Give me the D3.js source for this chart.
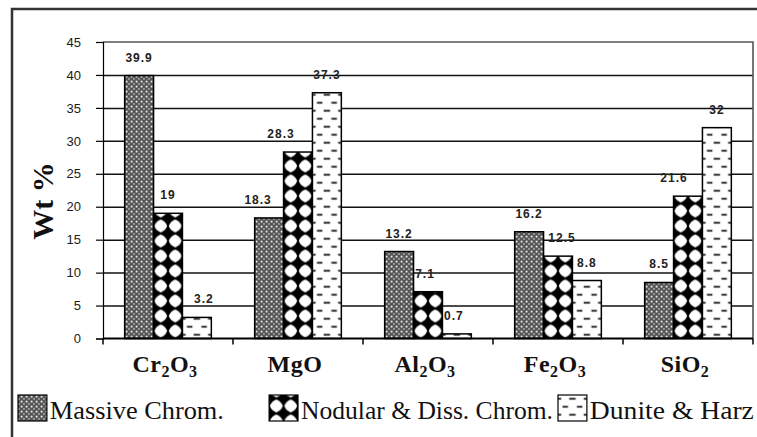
<!DOCTYPE html>
<html>
<head>
<meta charset="utf-8">
<script src="https://cdnjs.cloudflare.com/ajax/libs/d3/7.8.5/d3.min.js"></script>
<style>
    body { margin: 0; background: #fff; }
    svg { display: block; }
</style>
</head>
<body>
<div class="graphContainer"></div>
<script>
// Chart data
const categories = ["Cr2O3", "MgO", "Al2O3", "Fe2O3", "SiO2"];
const seriesNames = ["Massive Chrom.", "Nodular & Diss. Chrom.", "Dunite & Harz"];
const massive = [39.9, 18.3, 13.2, 16.2, 8.5];
const nodular = [19, 28.3, 7.1, 12.5, 21.6];
const dunite = [3.2, 37.3, 0.7, 8.8, 32];
const yTicks = [0, 5, 10, 15, 20, 25, 30, 35, 40, 45];

const seriesValues = [massive, nodular, dunite];

const width = 757, height = 437;
const margin = { top: 42, right: 4, bottom: 98, left: 103 };

const svg = d3.select(".graphContainer")
    .append("svg")
    .attr("width", width)
    .attr("height", height);

svg.append("rect")
    .attr("width", width)
    .attr("height", height)
    .attr("fill", "#fff");

// Scales
const x0 = d3.scaleBand()
    .domain(categories)
    .range([margin.left, width - margin.right])
    .padding(0);

const x1 = d3.scaleBand()
    .domain(d3.range(seriesNames.length))
    .range([0, x0.bandwidth()])
    .paddingInner(0)
    .paddingOuter(0.75);

const y = d3.scaleLinear()
    .domain([0, 45])
    .range([height - margin.bottom - 0.5, margin.top]);

const bw = x1.bandwidth();

// Fill patterns (aligned to the bars of each series)
const defs = svg.append("defs");

const pMassive = defs.append("pattern")
    .attr("id", "pat0")
    .attr("patternUnits", "userSpaceOnUse")
    .attr("width", 5)
    .attr("height", 5);
pMassive.append("rect").attr("width", 5).attr("height", 5).attr("fill", "#555");
pMassive.append("rect").attr("x", 0.7).attr("y", 0.7).attr("width", 1.8).attr("height", 1.8).attr("fill", "#eee");
pMassive.append("rect").attr("x", 3.2).attr("y", 3.2).attr("width", 1.5).attr("height", 1.5).attr("fill", "#c4c4c4");

const half = bw / 2;
const pNod = defs.append("pattern")
    .attr("id", "pat1")
    .attr("patternUnits", "userSpaceOnUse")
    .attr("x", margin.left + x1(1))
    .attr("y", y(0))
    .attr("width", half)
    .attr("height", 15);
pNod.append("rect").attr("width", half).attr("height", 15).attr("fill", "#000");
{
    const cx = half / 2, cy = 7.5, r = 6.4, k = 4.7;
    pNod.append("path")
        .attr("fill", "#fff")
        .attr("d", `M${cx},${cy - r} Q${cx + k},${cy - k} ${cx + r},${cy}`
            + ` Q${cx + k},${cy + k} ${cx},${cy + r}`
            + ` Q${cx - k},${cy + k} ${cx - r},${cy}`
            + ` Q${cx - k},${cy - k} ${cx},${cy - r} Z`);
}

const pDun = defs.append("pattern")
    .attr("id", "pat2")
    .attr("patternUnits", "userSpaceOnUse")
    .attr("x", margin.left + x1(2))
    .attr("y", y(0))
    .attr("width", half)
    .attr("height", 16);
pDun.append("rect").attr("width", half).attr("height", 16).attr("fill", "#fff");
pDun.append("rect").attr("x", 4.5).attr("y", 3.5).attr("width", 5.5).attr("height", 1.6).attr("fill", "#000");
pDun.append("rect").attr("x", 0).attr("y", 11.5).attr("width", 3.2).attr("height", 1.6).attr("fill", "#000");
pDun.append("rect").attr("x", half - 3.2).attr("y", 11.5).attr("width", 3.2).attr("height", 1.6).attr("fill", "#000");

// Outer frame
svg.append("path")
    .attr("d", `M12,${height} V9 H${width}`)
    .attr("fill", "none")
    .attr("stroke", "#333")
    .attr("stroke-width", 2.5);

// Gridlines
svg.append("g")
    .attr("class", "grid")
    .attr("transform", `translate(${margin.left},0)`)
    .call(d3.axisLeft(y)
        .tickValues(yTicks.filter(d => d > 0 && d < 45))
        .tickSize(-(width - margin.right - margin.left))
        .tickFormat(""))
    .call(g => g.select(".domain").remove())
    .call(g => g.selectAll("line").attr("stroke", "#111").attr("stroke-width", 1.5));

// Plot area border (top and right)
svg.append("path")
    .attr("d", `M${margin.left},${y(45)} H${width - margin.right} V${y(0)}`)
    .attr("fill", "none")
    .attr("stroke", "#555")
    .attr("stroke-width", 1.6);

// Bars
categories.forEach((cat, ci) => {
    seriesValues.forEach((vals, si) => {
        svg.append("rect")
            .attr("x", x0(cat) + x1(si))
            .attr("y", y(vals[ci]))
            .attr("width", bw)
            .attr("height", y(0) - y(vals[ci]))
            .attr("fill", `url(#pat${si})`)
            .attr("stroke", "#000")
            .attr("stroke-width", 1.5);
    });
});

// Data labels (a few are offset sideways as in the original)
const nudge = { "1-0": -11, "1-1": -17, "4-1": -14, "0-2": 7, "3-1": 4, "2-1": -3, "2-2": -3 };
categories.forEach((cat, ci) => {
    seriesValues.forEach((vals, si) => {
        svg.append("text")
            .attr("x", x0(cat) + x1(si) + bw / 2 + (nudge[ci + "-" + si] || 0))
            .attr("y", y(vals[ci]) - 14)
            .attr("text-anchor", "middle")
            .style("font-family", "'Liberation Sans', Arial, sans-serif")
            .style("font-weight", "bold")
            .style("font-size", "12px")
            .style("letter-spacing", "1px")
            .attr("fill", "#222")
            .text(vals[ci]);
    });
});

// Y axis
const yAxis = svg.append("g")
    .attr("transform", `translate(${margin.left},0)`)
    .call(d3.axisLeft(y).tickValues(yTicks).tickSize(7).tickPadding(15));
yAxis.select(".domain").attr("stroke", "#000").attr("stroke-width", 1.2);
yAxis.selectAll("line").attr("stroke", "#000").attr("stroke-width", 1.2);
yAxis.selectAll("text")
    .style("font-family", "'Liberation Sans', Arial, sans-serif")
    .style("font-size", "13px")
    .attr("fill", "#1a1a1a");

// X axis line and ticks at category boundaries
svg.append("line")
    .attr("x1", margin.left).attr("x2", width - margin.right)
    .attr("y1", y(0)).attr("y2", y(0))
    .attr("stroke", "#000").attr("stroke-width", 2);

const bounds = categories.map(c => x0(c)).concat([x0.range()[1]]);
svg.selectAll(".xtick")
    .data(bounds)
    .enter().append("line")
    .attr("x1", d => d).attr("x2", d => d)
    .attr("y1", y(0)).attr("y2", y(0) + 6)
    .attr("stroke", "#000").attr("stroke-width", 1.5);

// Category labels with subscripts
categories.forEach(cat => {
    const t = svg.append("text")
        .attr("x", x0(cat) + x0.bandwidth() / 2 - 3)
        .attr("y", 372)
        .attr("text-anchor", "middle")
        .style("font-family", "'Liberation Serif', 'Times New Roman', serif")
        .style("font-weight", "bold")
        .style("font-size", "24px")
        .style("letter-spacing", "0.5px")
        .attr("fill", "#111");
    const parts = cat.match(/[A-Za-z]+|\d+/g);
    let sub = false;
    parts.forEach(p => {
        const isNum = /\d/.test(p);
        t.append("tspan")
            .attr("dy", isNum ? 5 : (sub ? -5 : 0))
            .style("font-size", isNum ? "16px" : "24px")
            .text(p);
        sub = isNum;
    });
});

// Y axis title
svg.append("text")
    .attr("transform", "translate(53,201) rotate(-90)")
    .attr("text-anchor", "middle")
    .style("font-family", "'Liberation Serif', 'Times New Roman', serif")
    .style("font-weight", "bold")
    .style("font-size", "30px")
    .attr("fill", "#111")
    .text("Wt %");

// Legend
const legendX = [18, margin.left + x1(1) + half * 8, margin.left + x1(2) + half * 26];
const legendW = [174, 252, 164];
seriesNames.forEach((name, i) => {
    svg.append("rect")
        .attr("x", legendX[i])
        .attr("y", 395)
        .attr("width", bw)
        .attr("height", 26)
        .attr("fill", `url(#pat${i})`)
        .attr("stroke", "#000")
        .attr("stroke-width", 1.2);
    svg.append("text")
        .attr("x", legendX[i] + bw + 3)
        .attr("y", 419)
        .style("font-family", "'Liberation Serif', 'Times New Roman', serif")
        .style("font-size", "25px")
        .attr("textLength", legendW[i])
        .attr("lengthAdjust", "spacingAndGlyphs")
        .attr("fill", "#111")
        .text(name);
});
</script>
</body>
</html>
